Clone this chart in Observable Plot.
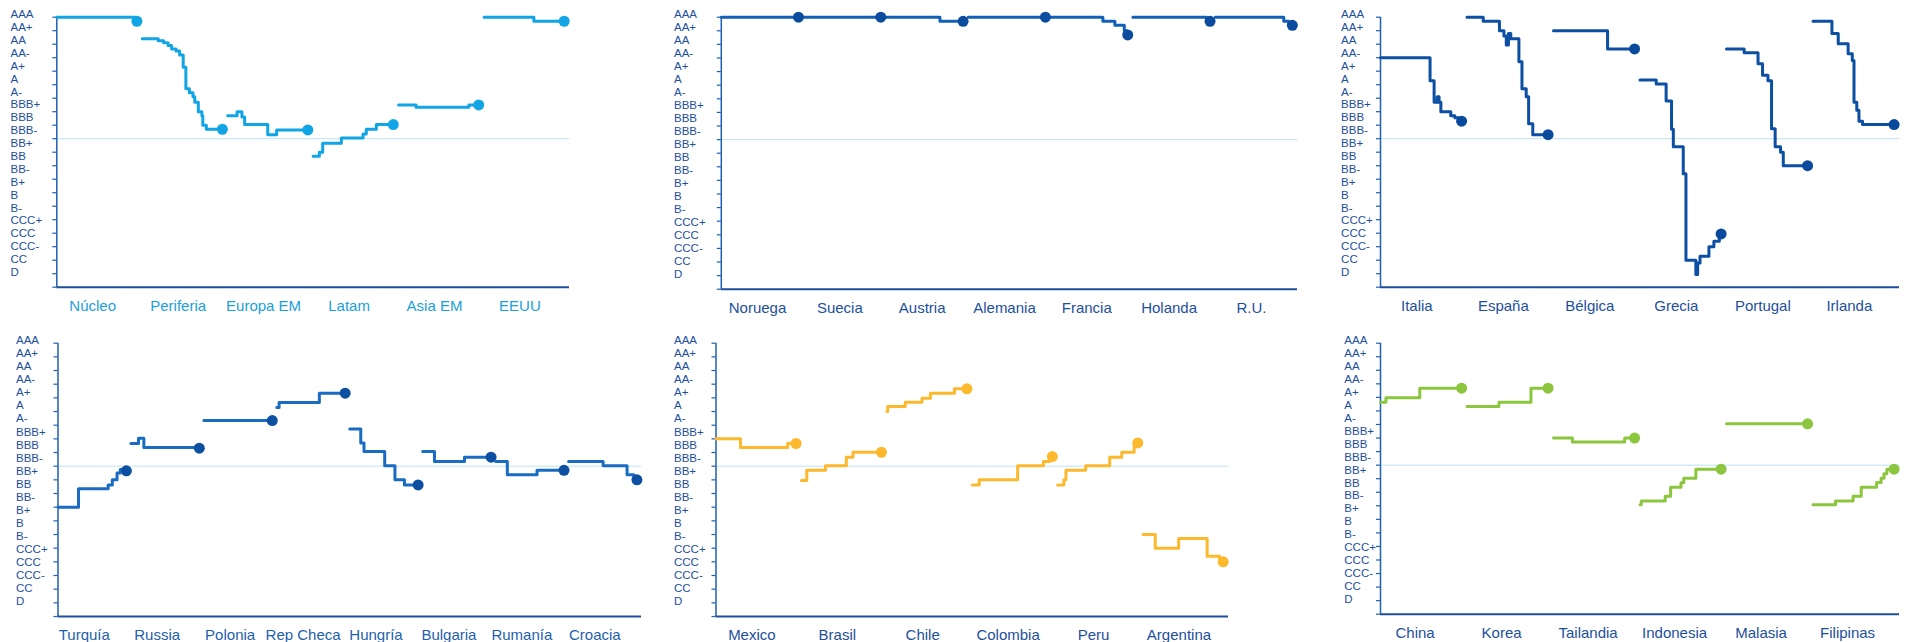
<!DOCTYPE html>
<html><head><meta charset="utf-8">
<script src="https://cdn.jsdelivr.net/npm/d3@7"></script>
<script src="https://cdn.jsdelivr.net/npm/@observablehq/plot@0.6"></script>
<style>
html,body{margin:0;padding:0;background:#fff;}
#wrap{position:relative;width:1912px;height:642px;overflow:hidden;background:#fff;}
#wrap>svg{position:absolute;overflow:visible;}
</style></head><body><div id="wrap"></div>
<script>
// Rating scale: index 0 = AAA ... 20 = D
const ratingLabels = ["AAA","AA+","AA","AA-","A+","A","A-","BBB+","BBB","BBB-","BB+","BB","BB-","B+","B","B-","CCC+","CCC","CCC-","CC","D"];
const investmentGrade = 9; // BBB-

// Each series: [month (0..90 within its slot), rating index] change points
const p1Categories = ["Núcleo","Periferia","Europa EM","Latam","Asia EM","EEUU"];
const p1Series = [
  [[0,0],[88,0.3],[90,0.3]],
  [[0,1.6],[18,1.75],[24,1.9],[29,2.1],[33,2.35],[38,2.5],[42,2.8],[46,3.7],[49,5.3],[53,5.6],[57,5.9],[59,6.3],[63,7.0],[67,7.3],[68,8.0],[72,8.3],[90,8.3]],
  [[0,7.3],[10.5,7.0],[16,7.4],[19,7.95],[45,8.7],[55,8.35],[90,8.35]],
  [[0,10.3],[7,10.0],[10.7,9.33],[31.7,8.95],[56,8.65],[59.7,8.3],[71,7.95],[90,7.95]],
  [[0,6.5],[19.6,6.67],[79,6.5],[90,6.5]],
  [[0,0],[56,0.3],[90,0.3]]
];

const p2Categories = ["Noruega","Suecia","Austria","Alemania","Francia","Holanda","R.U."];
const p2Series = [
  [[0,0],[90,0]],
  [[0,0],[90,0]],
  [[0,0],[63,0.3],[90,0.3]],
  [[0,0],[90,0]],
  [[0,0],[61,0.3],[75,0.6],[86,1.0],[89,1.3],[90,1.3]],
  [[0,0],[86,0.3],[90,0.3]],
  [[0,0],[80,0.3],[86,0.6],[90,0.6]]
];

const p3Categories = ["Italia","España","Bélgica","Grecia","Portugal","Irlanda"];
const p3Series = [
  [[0,3.0],[55,4.7],[59.5,6.3],[63,5.9],[65,6.3],[67,7.0],[78,7.3],[82.5,7.45],[87,7.7],[90,7.7]],
  [[0,0],[18,0.3],[36,1.0],[41,1.4],[43.6,2.05],[46,1.2],[48.6,1.6],[57.6,3.3],[61,5.3],[65.7,5.9],[68.4,7.9],[73,8.7],[90,8.7]],
  [[0,1.0],[60,2.35],[90,2.35]],
  [[0,4.65],[18,4.95],[29,6.2],[35,8.3],[37,9.6],[48,11.6],[51,18.0],[62,19.06],[64,18.2],[66.6,17.7],[76.5,17.0],[82,16.6],[88,16.05],[90,16.05]],
  [[0,2.35],[19.6,2.64],[35,3.45],[40,4.3],[46,4.7],[50,8.27],[54,9.6],[60,10.0],[63,11.0],[90,11.0]],
  [[0,0.3],[21,1.2],[28,1.97],[39,2.7],[43.6,3.2],[45.5,6.3],[48.6,6.9],[51,7.7],[55,7.95],[90,7.95]]
];

const p4Categories = ["Turquía","Russia","Polonia","Rep Checa","Hungría","Bulgaria","Rumanía","Croacia"];
const p4Series = [
  [[0,12.0],[27,10.66],[66,10.37],[71.5,10.0],[77.7,9.5],[82,9.25],[90,9.34]],
  [[0,7.34],[10,6.95],[17,7.63],[90,7.68]],
  [[0,5.66],[90,5.66]],
  [[0,4.7],[3,4.34],[56,3.66],[90,3.66]],
  [[0,6.27],[14.5,7.3],[18.75,7.93],[46,8.97],[59.5,10.0],[72,10.37],[90,10.37]],
  [[0,7.93],[15.5,8.66],[55,8.34],[90,8.34]],
  [[0,8.66],[15.4,9.63],[54.5,9.3],[90,9.3]],
  [[0,8.66],[45.5,8.97],[77,9.63],[86,10.0],[90,10.0]]
];

const p5Categories = ["Mexico","Brasil","Chile","Colombia","Peru","Argentina"];
const p5Series = [
  [[0,7.0],[27.5,7.63],[80.5,7.34],[90,7.34]],
  [[0,10.05],[6,9.3],[27,8.97],[50.5,8.34],[58,7.98],[90,7.98]],
  [[0,5.0],[1,4.63],[20.7,4.32],[39.5,4.02],[49,3.66],[76,3.34],[90,3.34]],
  [[0,10.37],[7.8,10.0],[51,8.97],[80,8.66],[86.8,8.3],[90,8.3]],
  [[0,10.37],[7,10.0],[9.3,9.3],[31.5,8.97],[58.5,8.34],[72,7.98],[86,7.3],[90,7.3]],
  [[0,14.0],[13.7,15.0],[40,14.3],[72,15.6],[86,16.0],[90,16.0]]
];

const p6Categories = ["China","Korea","Tailandia","Indonesia","Malasia","Filipinas"];
const p6Series = [
  [[0,4.35],[6,4.03],[43.6,3.32],[90,3.32]],
  [[0,4.67],[35.4,4.35],[71,3.32],[90,3.32]],
  [[0,7.0],[21,7.3],[79,7.0],[90,7.0]],
  [[0,11.93],[1.4,11.64],[28,11.3],[34,10.63],[45.5,10.3],[48.6,9.96],[62,9.3],[90,9.3]],
  [[0,5.95],[90,5.95]],
  [[0,11.93],[25,11.64],[44.5,11.3],[53.5,10.63],[70.6,10.28],[75.6,9.96],[78.75,9.63],[82,9.3],[90,9.3]]
];

// Layout (not data)
const SLOT = 96, SPAN = 90;
const axisColor = "#1E5FB0", labelColor = "#1D4F9E";
const panels = [
  {cats:p1Categories, series:p1Series, left:0, top:0, width:580, height:321, mL:56.3, mR:11, mT:16.7, mB:34.3, gap:46.3, line:"#12A5E6", dot:"#12A5E6", xText:"#1AA0DC", lblShift:0.42},
  {cats:p2Categories, series:p2Series, left:640, top:0, width:660, height:321, mL:80.8, mR:3, mT:16.7, mB:32.3, gap:47.3, line:"#1360B6", dot:"#0B4C9E", xText:labelColor, lblShift:0.44},
  {cats:p3Categories, series:p3Series, left:1300, top:0, width:612, height:321, mL:80, mR:13, mT:16.7, mB:34.3, gap:39.4, line:"#0C4FA3", dot:"#0A4A9C", xText:labelColor, lblShift:0.42},
  {cats:p4Categories, series:p4Series, left:0, top:321, width:645, height:321, mL:57.5, mR:4, mT:21.7, mB:26, gap:42, line:"#1A6CC2", dot:"#0D4FA1", xText:"#1E5FB0", lblShift:0.36},
  {cats:p5Categories, series:p5Series, left:645, top:321, width:600, height:321, mL:70.5, mR:17, mT:21.7, mB:26, gap:42, line:"#FDB92E", dot:"#FDB92E", xText:labelColor, lblShift:0.42},
  {cats:p6Categories, series:p6Series, left:1300, top:321, width:612, height:321, mL:80, mR:13, mT:21.7, mB:28.3, gap:36.2, line:"#8CC63F", dot:"#8CC63F", xText:labelColor, lblShift:0.4}
];

const wrap = document.getElementById("wrap");
for (const p of panels) {
  const rows = [];
  const ends = [];
  p.series.forEach((s, i) => {
    s.forEach(([m, r]) => rows.push({country: p.cats[i], x: i * SLOT + m, y: r}));
    const last = s[s.length - 1];
    ends.push({country: p.cats[i], x: i * SLOT + last[0], y: last[1]});
  });
  const catRows = p.cats.map((c, i) => ({name: c, x: (i + p.lblShift) * SLOT}));
  const labelRows = ratingLabels.map((l, i) => ({label: l, y: -0.2 + 0.955 * i}));
  const chart = Plot.plot({
    width: p.width, height: p.height,
    marginLeft: p.mL, marginRight: p.mR, marginTop: p.mT, marginBottom: p.mB,
    style: {fontFamily: "'Liberation Sans', Arial, sans-serif", background: "transparent", overflow: "visible"},
    x: {domain: [0, p.cats.length * SLOT], axis: null},
    y: {domain: [0, 20], reverse: true},
    marks: [
      Plot.ruleY([investmentGrade], {stroke: "#BDE3F6", strokeWidth: 1}),
      Plot.axisY({ticks: d3.range(0, 21), tickSize: 4, tickFormat: () => "", label: null, stroke: axisColor, strokeWidth: 1.2}),
      Plot.ruleX([0], {stroke: axisColor, strokeWidth: 1.5}),
      Plot.ruleY([20], {stroke: "#1F4E9B", strokeWidth: 2}),
      Plot.text(labelRows, {x: () => 0, y: "y", text: "label", dx: -p.gap, textAnchor: "start", fontSize: 11.5, fill: labelColor}),
      Plot.text(catRows, {x: "x", y: () => 20, text: "name", dy: 19, fontSize: 15, fill: p.xText}),
      Plot.line(rows, {x: "x", y: "y", z: "country", curve: "step-after", stroke: p.line, strokeWidth: 3}),
      Plot.dot(ends, {x: "x", y: "y", r: 5.5, fill: p.dot, stroke: "none"})
    ]
  });
  chart.style.left = p.left + "px";
  chart.style.top = p.top + "px";
  wrap.appendChild(chart);
}
</script></body></html>
